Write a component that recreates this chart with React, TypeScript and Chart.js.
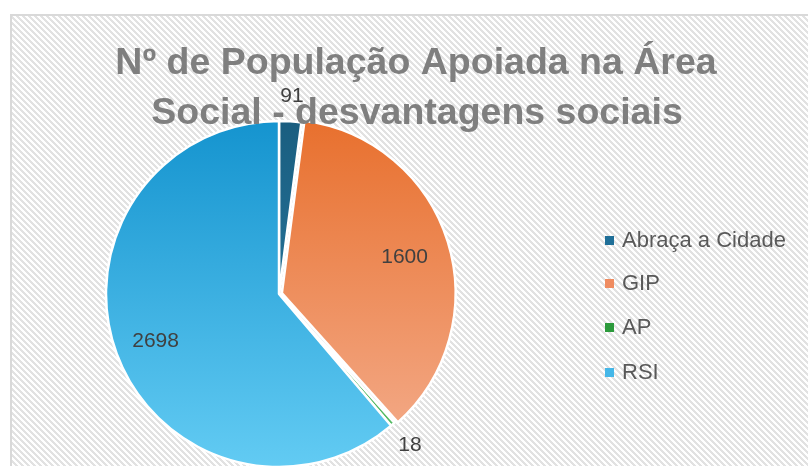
import { useEffect, useRef } from "react";
import { Chart, registerables } from "chart.js";

Chart.register(...registerables);

const titleLines = ["Nº de População Apoiada na Área", "Social - desvantagens sociais"];
const categories = ["Abraça a Cidade", "GIP", "AP", "RSI"];
const values = [91, 1600, 18, 2698];
const sliceOffsets = [0, 12, 0, 0];
const gradientTop = ["#1a5e80", "#e8702e", "#1f7a30", "#1594cf"];
const gradientBottom = ["#2c83ad", "#f4ae8e", "#5cc46a", "#62cbf3"];
const legendColors = ["#1f6f98", "#ef8c61", "#2c9a3c", "#45b7e8"];

function makePattern(): CanvasPattern | string {
  const p = document.createElement("canvas");
  const n = 6;
  p.width = n;
  p.height = n;
  const c = p.getContext("2d");
  if (!c) return "#f0f0f0";
  c.fillStyle = "#ffffff";
  c.fillRect(0, 0, n, n);
  c.fillStyle = "#e2e2e2";
  for (let y = 0; y < n; y++) {
    for (let x = 0; x < n; x++) {
      const d = (((x - y) % n) + n) % n;
      if (d < 3) c.fillRect(x, y, 1, 1);
    }
  }
  const ctx = document.createElement("canvas").getContext("2d");
  return ctx ? (ctx.createPattern(p, "repeat") as CanvasPattern) : "#f0f0f0";
}

const backgroundPlugin = {
  id: "bgPlugin",
  beforeDraw(chart: any) {
    const c = chart.ctx as CanvasRenderingContext2D;
    const w = chart.width;
    const h = chart.height;
    c.save();
    c.fillStyle = "#ffffff";
    c.fillRect(0, 0, w, h);
    c.fillStyle = makePattern();
    c.fillRect(11, 15, w - 11, h - 15);
    c.strokeStyle = "#d9d9d9";
    c.lineWidth = 2;
    c.beginPath();
    c.moveTo(11, h);
    c.lineTo(11, 15);
    c.lineTo(w, 15);
    c.stroke();
    c.restore();
  },
};

const overlayPlugin = {
  id: "overlayPlugin",
  afterDatasetsDraw(chart: any) {
    const c = chart.ctx as CanvasRenderingContext2D;
    const meta = chart.getDatasetMeta(0);
    const data = chart.data.datasets[0].data as number[];
    const total = data.reduce((a: number, b: number) => a + b, 0);
    c.save();
    // title
    c.fillStyle = "#7f7f7f";
    c.font = "bold 37.5px 'Liberation Sans', Arial, sans-serif";
    c.textAlign = "center";
    c.textBaseline = "alphabetic";
    c.fillText(titleLines[0], 416, 74);
    c.fillText(titleLines[1], 417, 124);

    // data labels
    c.fillStyle = "#404040";
    c.font = "21px 'Liberation Sans', Arial, sans-serif";
    c.textAlign = "center";
    c.textBaseline = "middle";
    meta.data.forEach((arc: any, i: number) => {
      const { x, y, startAngle, endAngle, outerRadius } = arc.getProps(
        ["x", "y", "startAngle", "endAngle", "outerRadius"],
        true
      );
      const mid = (startAngle + endAngle) / 2;
      const frac = data[i] / total;
      const r = frac < 0.05 ? outerRadius + 26 : outerRadius * 0.76;
      const lx = x + Math.cos(mid) * r;
      const ly = y + Math.sin(mid) * r + (frac < 0.05 ? 1 : 2);
      c.fillText(String(data[i]), lx, ly);
    });

    // legend
    const labels = chart.data.labels as string[];
    const ys = [241, 284, 328, 373];
    c.font = "22px 'Liberation Sans', Arial, sans-serif";
    c.textAlign = "left";
    labels.forEach((lab, i) => {
      c.fillStyle = legendColors[i];
      c.fillRect(605, ys[i] - 5, 9, 9);
      c.fillStyle = "#595959";
      c.fillText(lab, 622, ys[i]);
    });
    c.restore();
  },
};

export default function App() {
  const ref = useRef<HTMLCanvasElement | null>(null);

  useEffect(() => {
    document.body.style.margin = "0";
    const canvas = ref.current;
    if (!canvas) return;
    const chart = new Chart(canvas, {
      type: "pie",
      data: {
        labels: categories,
        datasets: [
          {
            data: values,
            radius: 173,
            offset: sliceOffsets,
            borderColor: "#ffffff",
            borderWidth: 2.5,
            backgroundColor: (ctx: any) => {
              const ch = ctx.chart;
              const i = ctx.dataIndex ?? 0;
              const area = ch.chartArea;
              if (!area) return gradientTop[i];
              const g = ch.ctx.createLinearGradient(0, area.top, 0, area.bottom);
              g.addColorStop(0, gradientTop[i]);
              g.addColorStop(1, gradientBottom[i]);
              return g;
            },
          } as any,
        ],
      },
      options: {
        responsive: false,
        animation: false,
        devicePixelRatio: 1,
        layout: { padding: { top: 122, bottom: 0, left: 92, right: 342 } },
        plugins: {
          legend: { display: false },
          title: { display: false },
          tooltip: { enabled: false },
        },
      },
      plugins: [backgroundPlugin, overlayPlugin],
    });
    return () => chart.destroy();
  }, []);

  return (
    <div style={{ width: 808, height: 466, overflow: "hidden" }}>
      <canvas ref={ref} width={808} height={466} style={{ display: "block" }} />
    </div>
  );
}
